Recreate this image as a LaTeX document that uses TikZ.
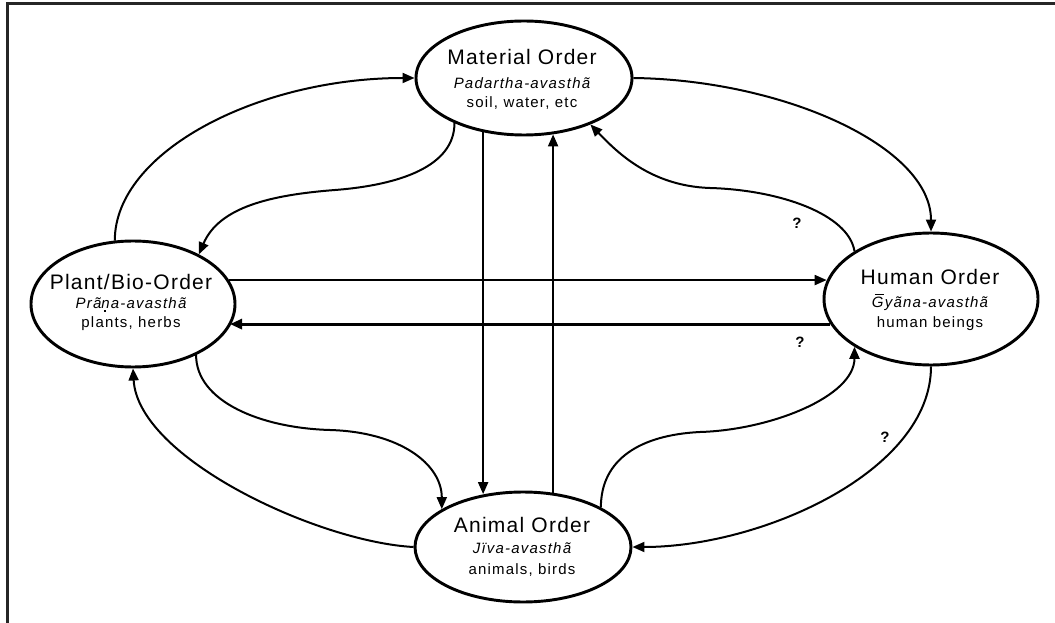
\documentclass[tikz,border=0pt]{standalone}
\usepackage{fontspec}
\setmainfont{Liberation Sans}
\newfontfamily\ttlfont[LetterSpace=6]{Liberation Sans}
\newfontfamily\txtfont[LetterSpace=8]{Liberation Sans}
\usetikzlibrary{shapes.geometric,arrows.meta}
\newcommand\Gmac{\leavevmode\rlap{\kern0.2em\rule[0.8em]{0.6em}{0.07em}}G}
\newcommand\ndotb{\leavevmode\rlap{\kern0.2em\rule[-0.22em]{0.11em}{0.11em}}n}
\begin{document}
\begin{tikzpicture}[x=0.75pt,y=-0.75pt,
  ell/.style={draw, ellipse, line width=2.2pt, inner sep=0pt},
  conn/.style={line width=1.5pt, -{Triangle[length=9pt,width=7.5pt]}},
  ttl/.style={font=\ttlfont\fontsize{15.75pt}{18pt}\selectfont, anchor=base, inner sep=0pt},
  sub/.style={font=\txtfont\itshape\fontsize{11.25pt}{13pt}\selectfont, anchor=base, inner sep=0pt},
  txt/.style={font=\txtfont\fontsize{11.25pt}{13pt}\selectfont, anchor=base, inner sep=0pt},
  qm/.style={font=\bfseries\fontsize{11.25pt}{13pt}\selectfont, inner sep=0pt},
  frame/.style={line width=2.25pt, draw=black!85, line join=miter}]
\useasboundingbox (0,0) rectangle (1055,623);
\draw[frame] (7.5,623) -- (7.5,3.5) -- (1055,3.5);

% ellipses
\node[ell, minimum width=153pt, minimum height=94.5pt] (pl) at (133,304) {};
\node[ell, minimum width=162pt, minimum height=85.5pt] (mat) at (524,78) {};
\node[ell, minimum width=160.5pt, minimum height=99pt] (hum) at (931,299) {};
\node[ell, minimum width=162pt, minimum height=82.5pt] (ani) at (523,547) {};

% texts
\node[ttl] (matA) at (522,64.5) {Material Order};
\node[sub] (matB) at (522,88.5) {Padartha-avasthã};
\node[txt] (matC) at (522,107.5) {soil, water, etc};

\node[ttl] (plA) at (131,289.5) {Plant/Bio-Order};
\node[sub] (plB) at (131,308.5) {Prã\ndotb a-avasthã};
\node[txt] (plC) at (131,327.5) {plants, herbs};

\node[ttl] (huA) at (930,284.5) {Human Order};
\node[sub] (huB) at (930,307.5) {\Gmac yãna-avasthã};
\node[txt] (huC) at (930,327.5) {human beings};

\node[ttl] (anA) at (522,532.5) {Animal Order};
\node[sub] (anB) at (522,553.5) {Jïva-avasthã};
\node[txt] (anC) at (522,574.5) {animals, birds};

% connectors
\draw[conn] (pl.106) .. controls +(0,-89) and +(-156,0) .. (mat.west);
\draw[conn] (mat.213) .. controls +(0,43) and (400,185) .. (335,190)
            .. controls (270,195) and +(20,-47) .. (pl.37);
\draw[conn] (mat.east) .. controls +(150,2) and +(0,-85) .. (hum.north);
\draw[conn] (hum.148) .. controls +(-6,-37) and (780,190) .. (710,188)
            .. controls (650,186) and +(26,27) .. (mat.325);
\draw[conn] (pl.14) -- (pl.14 -| hum.170);
\draw[conn, line width=2.2pt] (hum.194.8) -- (hum.194.8 -| pl.347.7);
\draw[conn] (mat.233.6) -- (mat.233.6 |- ani.126.4);
\draw[conn] (ani.61.3) -- (ani.61.3 |- mat.297);
\draw[conn] (pl.321) .. controls +(0,46) and (260,428) .. (330,430)
            .. controls (400,432) and +(0,-45) .. (ani.155);
\draw[conn] (ani.west) .. controls +(-95,-5) and +(5,90) .. (pl.south);
\draw[conn] (ani.27) .. controls +(0,-48) and (640,435) .. (700,432)
            .. controls (770,430) and +(0,50) .. (hum.212);
\draw[conn] (hum.south) .. controls +(0,105) and +(129,0) .. (ani.east);

% question marks
\node[qm] (q1) at (797,223) {?};
\node[qm] (q2) at (885,437) {?};
\node[qm] (q3) at (800,342) {?};
\end{tikzpicture}
\end{document}
